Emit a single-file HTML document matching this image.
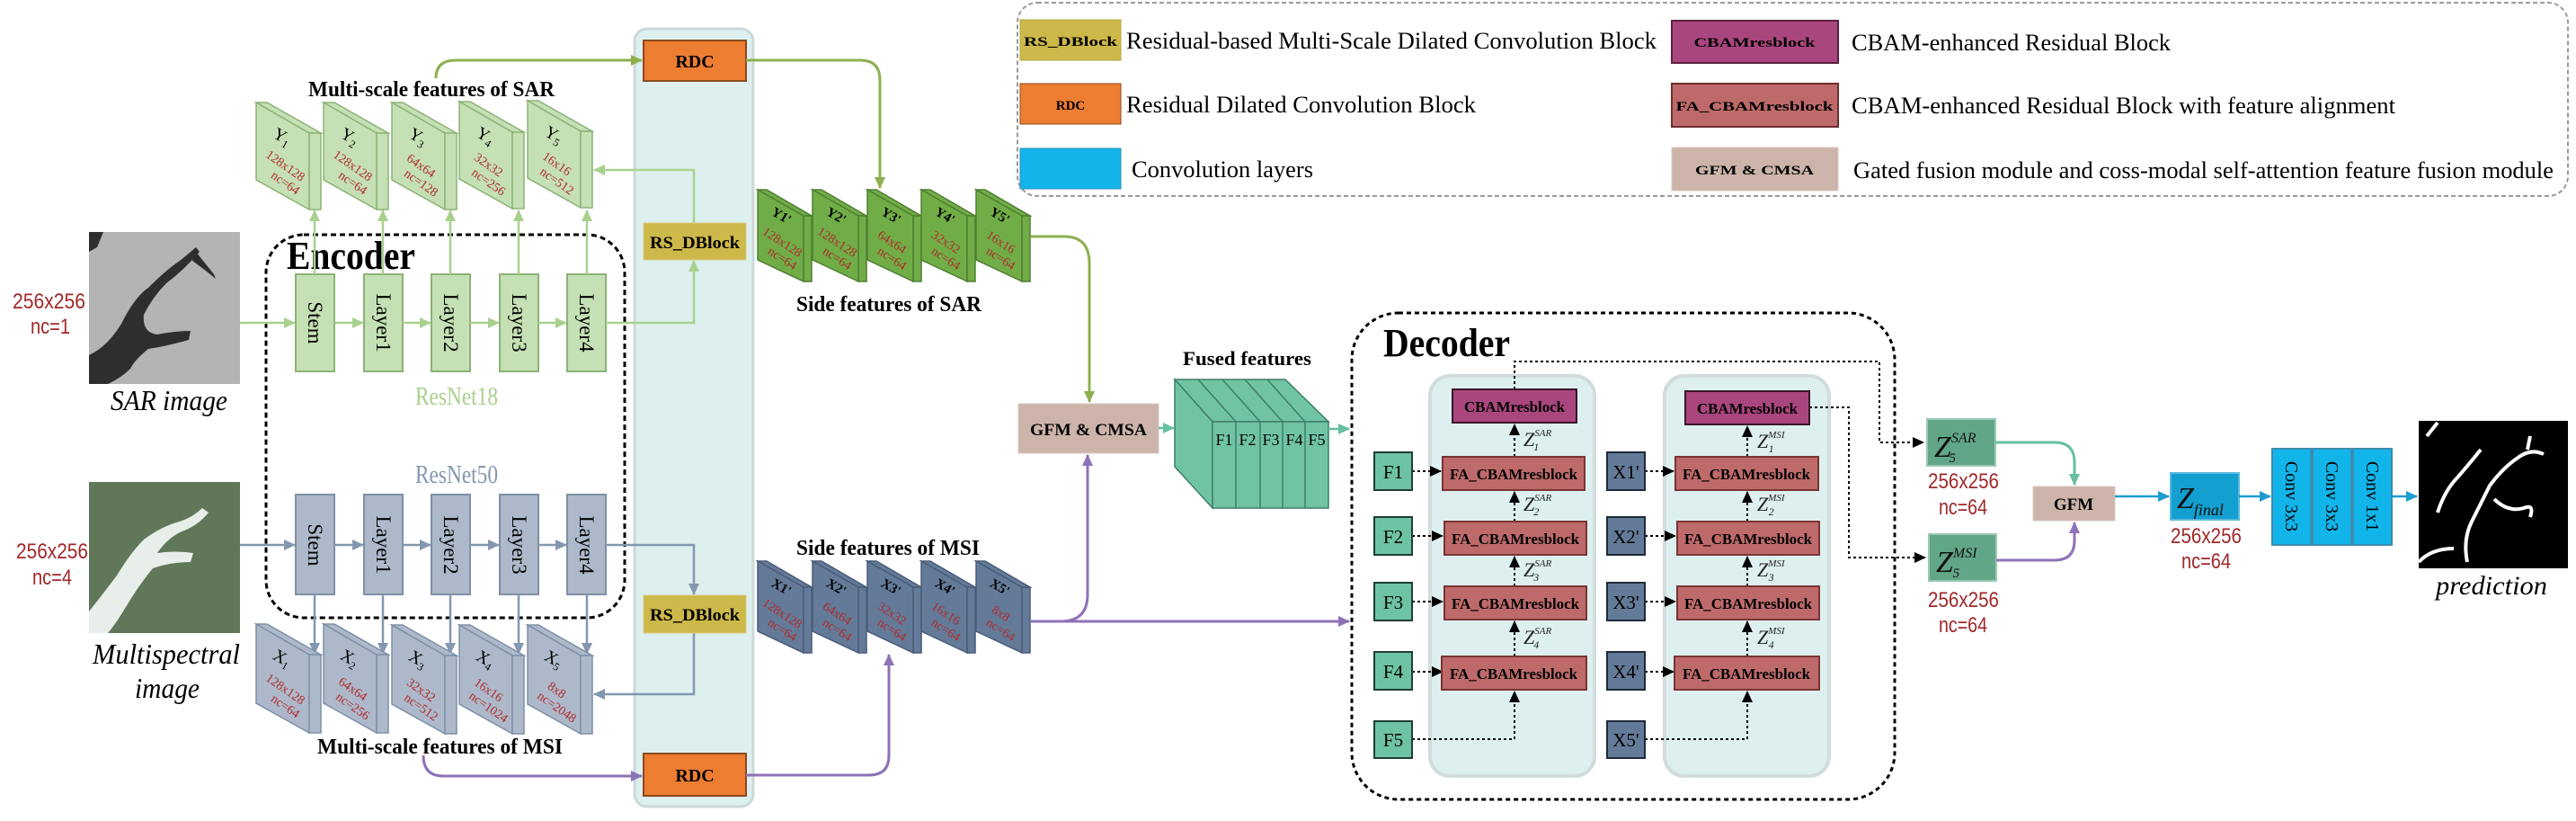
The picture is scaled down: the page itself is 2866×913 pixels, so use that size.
<!DOCTYPE html>
<html><head><meta charset="utf-8"><style>
html,body{margin:0;padding:0;background:#fff;}
svg{display:block;}
.s{font-family:"Liberation Serif",serif;}
.b{font-family:"Liberation Serif",serif;font-weight:bold;}
.r{font-family:"Liberation Sans",sans-serif;fill:#A0282A;}
.i{font-family:"Liberation Serif",serif;font-style:italic;}
.d{fill:#B22A2A;font-family:"Liberation Serif",serif;font-size:14px;}
</style></head><body>
<svg width="2866" height="913" viewBox="0 0 2866 913" xmlns="http://www.w3.org/2000/svg">
<defs>
<marker id="ag" markerWidth="14" markerHeight="14" refX="12" refY="7" orient="auto" markerUnits="userSpaceOnUse"><path d="M0,1 L13,7 L0,13z" fill="#A9D18E"/></marker>
<marker id="ab" markerWidth="14" markerHeight="14" refX="12" refY="7" orient="auto" markerUnits="userSpaceOnUse"><path d="M0,1 L13,7 L0,13z" fill="#8497B0"/></marker>
<marker id="ao" markerWidth="14" markerHeight="14" refX="12" refY="7" orient="auto" markerUnits="userSpaceOnUse"><path d="M0,1 L13,7 L0,13z" fill="#8DB04F"/></marker>
<marker id="ap" markerWidth="14" markerHeight="14" refX="12" refY="7" orient="auto" markerUnits="userSpaceOnUse"><path d="M0,1 L13,7 L0,13z" fill="#8E72B8"/></marker>
<marker id="at" markerWidth="14" markerHeight="14" refX="12" refY="7" orient="auto" markerUnits="userSpaceOnUse"><path d="M0,1 L13,7 L0,13z" fill="#66BFA0"/></marker>
<marker id="ak" markerWidth="14" markerHeight="14" refX="12" refY="7" orient="auto" markerUnits="userSpaceOnUse"><path d="M0,1 L13,7 L0,13z" fill="#000"/></marker>
<marker id="ac" markerWidth="14" markerHeight="14" refX="12" refY="7" orient="auto" markerUnits="userSpaceOnUse"><path d="M0,1 L13,7 L0,13z" fill="#1E9BD0"/></marker>
</defs>

<!-- Legend -->
<rect x="1132" y="3" width="1725" height="215" rx="22" fill="none" stroke="#9A9A9A" stroke-width="2" stroke-dasharray="5,3"/>
<rect x="1135" y="22" width="112" height="45" fill="#CDB84A" stroke="#B5A440"/>
<text class="b" x="1191" y="51" font-size="15" text-anchor="middle" textLength="104" lengthAdjust="spacingAndGlyphs">RS_DBlock</text>
<text class="s" x="1253" y="54" font-size="26" textLength="590" lengthAdjust="spacingAndGlyphs">Residual-based Multi-Scale Dilated Convolution Block</text>
<rect x="1135" y="93" width="112" height="45" fill="#ED7D31" stroke="#8B4A1E"/>
<text class="b" x="1191" y="122" font-size="15" text-anchor="middle">RDC</text>
<text class="s" x="1253" y="125" font-size="26" textLength="389" lengthAdjust="spacingAndGlyphs">Residual Dilated Convolution Block</text>
<rect x="1135" y="165" width="112" height="45" fill="#12B5EA" stroke="#2E8FB5"/>
<text class="s" x="1259" y="197" font-size="26" textLength="202" lengthAdjust="spacingAndGlyphs">Convolution layers</text>
<rect x="1860" y="23" width="185" height="47" fill="#A9467E" stroke="#5E2040" stroke-width="2"/>
<text class="b" x="1952" y="52" font-size="15" text-anchor="middle" textLength="135" lengthAdjust="spacingAndGlyphs">CBAMresblock</text>
<text class="s" x="2060" y="56" font-size="26" textLength="355" lengthAdjust="spacingAndGlyphs">CBAM-enhanced Residual Block</text>
<rect x="1860" y="93" width="185" height="48" fill="#BE6A6A" stroke="#6E2E2E" stroke-width="2"/>
<text class="b" x="1952" y="123" font-size="15" text-anchor="middle" textLength="175" lengthAdjust="spacingAndGlyphs">FA_CBAMresblock</text>
<text class="s" x="2060" y="126" font-size="26" textLength="605" lengthAdjust="spacingAndGlyphs">CBAM-enhanced Residual Block with feature alignment</text>
<rect x="1860" y="164" width="185" height="48" fill="#CDB4AA" stroke="#D8C8C0"/>
<text class="b" x="1952" y="194" font-size="15" text-anchor="middle" textLength="132" lengthAdjust="spacingAndGlyphs">GFM &amp; CMSA</text>
<text class="s" x="2062" y="198" font-size="26" textLength="779" lengthAdjust="spacingAndGlyphs">Gated fusion module and coss-modal self-attention feature fusion module</text>

<!-- Cyan column -->
<rect x="706" y="32" width="132" height="865" rx="14" fill="#DDF0EF" stroke="#CCD9D9" stroke-width="3"/>

<!-- Images -->
<rect x="99" y="258" width="168" height="169" fill="#B4B4B4"/>
<path d="M99,258 L115,258 L108,275 L99,280Z M99,395 Q120,385 135,360 Q150,330 165,320 Q185,300 200,290 Q210,282 218,275 L222,280 Q205,300 185,315 Q170,330 160,350 Q158,370 175,372 Q195,368 212,368 L210,378 Q185,385 165,388 Q150,400 145,410 Q135,420 120,427 L99,427Z M218,280 Q230,295 238,305 L240,310 Q228,300 214,290Z" fill="#2E2E2E"/>
<rect x="99" y="536" width="168" height="168" fill="#60775A"/>
<path d="M99,704 L99,680 Q115,660 130,640 Q145,615 160,600 Q180,585 200,580 Q215,575 225,565 L232,570 Q220,585 200,592 Q185,600 175,615 Q195,612 215,615 L212,625 Q190,625 170,632 Q155,650 140,675 Q128,695 120,704Z" fill="#E8EEEA"/>

<text class="r" x="14" y="343" font-size="24" textLength="81" lengthAdjust="spacingAndGlyphs">256x256</text>
<text class="r" x="34" y="371" font-size="24" textLength="44" lengthAdjust="spacingAndGlyphs">nc=1</text>
<text class="r" x="18" y="621" font-size="24" textLength="80" lengthAdjust="spacingAndGlyphs">256x256</text>
<text class="r" x="36" y="650" font-size="24" textLength="44" lengthAdjust="spacingAndGlyphs">nc=4</text>
<text class="i" x="123" y="456" font-size="32" textLength="130" lengthAdjust="spacingAndGlyphs">SAR image</text>
<text class="i" x="103" y="738" font-size="32" textLength="164" lengthAdjust="spacingAndGlyphs">Multispectral</text>
<text class="i" x="150" y="776" font-size="32" textLength="72" lengthAdjust="spacingAndGlyphs">image</text>

<!-- Encoder box -->
<rect x="296" y="261" width="399" height="426" rx="42" fill="none" stroke="#000" stroke-width="3" stroke-dasharray="6,4"/>
<text class="b" x="319" y="299" font-size="44" textLength="143" lengthAdjust="spacingAndGlyphs">Encoder</text>
<text class="s" x="462" y="450" font-size="28" fill="#A9D18E" textLength="92" lengthAdjust="spacingAndGlyphs">ResNet18</text>
<text class="s" x="462" y="537" font-size="28" fill="#8497B0" textLength="92" lengthAdjust="spacingAndGlyphs">ResNet50</text>

<!-- SAR layers -->
<g fill="#C5E0B4" stroke="#8DB276" stroke-width="2">
<rect x="329" y="305" width="43" height="108"/><rect x="405" y="305" width="43" height="108"/><rect x="480" y="305" width="43" height="108"/><rect x="556" y="305" width="43" height="108"/><rect x="631" y="305" width="43" height="108"/>
</g>
<g fill="#ADB9CA" stroke="#7F8FA6" stroke-width="2">
<rect x="329" y="550" width="43" height="111"/><rect x="405" y="550" width="43" height="111"/><rect x="480" y="550" width="43" height="111"/><rect x="556" y="550" width="43" height="111"/><rect x="631" y="550" width="43" height="111"/>
</g>
<g class="s" font-size="23" text-anchor="middle">
<text transform="translate(343,359) rotate(90)">Stem</text>
<text transform="translate(419,359) rotate(90)">Layer1</text>
<text transform="translate(494,359) rotate(90)">Layer2</text>
<text transform="translate(570,359) rotate(90)">Layer3</text>
<text transform="translate(645,359) rotate(90)">Layer4</text>
<text transform="translate(343,606) rotate(90)">Stem</text>
<text transform="translate(419,606) rotate(90)">Layer1</text>
<text transform="translate(494,606) rotate(90)">Layer2</text>
<text transform="translate(570,606) rotate(90)">Layer3</text>
<text transform="translate(645,606) rotate(90)">Layer4</text>
</g>

<!-- SAR encoder arrows -->
<g stroke="#A9D18E" stroke-width="2.5" fill="none" marker-end="url(#ag)">
<path d="M267,359 H328"/><path d="M372,359 H404"/><path d="M448,359 H479"/><path d="M523,359 H555"/><path d="M599,359 H630"/>
<path d="M674,359 H772 V290"/>
<path d="M772,248 V189 H661"/>
<path d="M350,305 V234"/><path d="M426,305 V234"/><path d="M501,305 V234"/><path d="M577,305 V234"/><path d="M653,305 V234"/>
</g>
<g stroke="#8497B0" stroke-width="2.5" fill="none" marker-end="url(#ab)">
<path d="M267,606 H328"/><path d="M372,606 H404"/><path d="M448,606 H479"/><path d="M523,606 H555"/><path d="M599,606 H630"/>
<path d="M674,606 H772 V661"/>
<path d="M772,704 V772 H661"/>
<path d="M350,661 V727"/><path d="M426,661 V727"/><path d="M501,661 V727"/><path d="M577,661 V727"/><path d="M653,661 V727"/>
</g>

<!-- Y blocks -->
<g stroke="#8DB276" stroke-width="1.5" fill="#C5E0B4">
<g transform="translate(285,114)"><polygon points="0,0 12,0 72,34 59,34"/><polygon points="0,0 59,34 59,119 0,86"/><polygon points="59,34 72,34 72,119 59,119"/></g>
<g transform="translate(360,114)"><polygon points="0,0 12,0 72,34 59,34"/><polygon points="0,0 59,34 59,119 0,86"/><polygon points="59,34 72,34 72,119 59,119"/></g>
<g transform="translate(436,114)"><polygon points="0,0 12,0 72,34 59,34"/><polygon points="0,0 59,34 59,119 0,86"/><polygon points="59,34 72,34 72,119 59,119"/></g>
<g transform="translate(511,113)"><polygon points="0,0 12,0 72,34 59,34"/><polygon points="0,0 59,34 59,119 0,86"/><polygon points="59,34 72,34 72,119 59,119"/></g>
<g transform="translate(587,112)"><polygon points="0,0 12,0 72,34 59,34"/><polygon points="0,0 59,34 59,119 0,86"/><polygon points="59,34 72,34 72,119 59,119"/></g>
</g>
<g stroke="#7F8FA6" stroke-width="1.5" fill="#ADB9CA">
<g transform="translate(285,694)"><polygon points="0,0 12,0 72,34 59,34"/><polygon points="0,0 59,34 59,121 0,88"/><polygon points="59,34 72,34 72,121 59,121"/></g>
<g transform="translate(360,694)"><polygon points="0,0 12,0 72,34 59,34"/><polygon points="0,0 59,34 59,121 0,88"/><polygon points="59,34 72,34 72,121 59,121"/></g>
<g transform="translate(436,695)"><polygon points="0,0 12,0 72,34 59,34"/><polygon points="0,0 59,34 59,121 0,88"/><polygon points="59,34 72,34 72,121 59,121"/></g>
<g transform="translate(511,695)"><polygon points="0,0 12,0 72,34 59,34"/><polygon points="0,0 59,34 59,121 0,88"/><polygon points="59,34 72,34 72,121 59,121"/></g>
<g transform="translate(587,695)"><polygon points="0,0 12,0 72,34 59,34"/><polygon points="0,0 59,34 59,121 0,88"/><polygon points="59,34 72,34 72,121 59,121"/></g>
</g>
<g class="s" font-size="19" text-anchor="middle">
<text transform="translate(311,157) rotate(30)">Y<tspan font-size="12" dy="4">1</tspan></text>
<text transform="translate(386,157) rotate(30)">Y<tspan font-size="12" dy="4">2</tspan></text>
<text transform="translate(462,157) rotate(30)">Y<tspan font-size="12" dy="4">3</tspan></text>
<text transform="translate(537,156) rotate(30)">Y<tspan font-size="12" dy="4">4</tspan></text>
<text transform="translate(613,155) rotate(30)">Y<tspan font-size="12" dy="4">5</tspan></text>
<text transform="translate(311,737) rotate(30)">X<tspan font-size="12" dy="4">1</tspan></text>
<text transform="translate(386,737) rotate(30)">X<tspan font-size="12" dy="4">2</tspan></text>
<text transform="translate(462,738) rotate(30)">X<tspan font-size="12" dy="4">3</tspan></text>
<text transform="translate(537,738) rotate(30)">X<tspan font-size="12" dy="4">4</tspan></text>
<text transform="translate(613,738) rotate(30)">X<tspan font-size="12" dy="4">5</tspan></text>
</g>
<g class="d" text-anchor="middle">
<text transform="translate(315,188) rotate(35)">128x128</text><text transform="translate(315,207) rotate(35)">nc=64</text>
<text transform="translate(390,188) rotate(35)">128x128</text><text transform="translate(390,207) rotate(35)">nc=64</text>
<text transform="translate(466,188) rotate(35)">64x64</text><text transform="translate(466,207) rotate(35)">nc=128</text>
<text transform="translate(541,187) rotate(35)">32x32</text><text transform="translate(541,206) rotate(35)">nc=256</text>
<text transform="translate(617,186) rotate(35)">16x16</text><text transform="translate(617,205) rotate(35)">nc=512</text>
<text transform="translate(315,770) rotate(35)">128x128</text><text transform="translate(315,789) rotate(35)">nc=64</text>
<text transform="translate(390,770) rotate(35)">64x64</text><text transform="translate(390,789) rotate(35)">nc=256</text>
<text transform="translate(466,771) rotate(35)">32x32</text><text transform="translate(466,790) rotate(35)">nc=512</text>
<text transform="translate(541,771) rotate(35)">16x16</text><text transform="translate(541,790) rotate(35)">nc=1024</text>
<text transform="translate(617,771) rotate(35)">8x8</text><text transform="translate(617,790) rotate(35)">nc=2048</text>
</g>
<text class="b" x="343" y="107" font-size="24" textLength="274" lengthAdjust="spacingAndGlyphs">Multi-scale features of SAR</text>
<text class="b" x="353" y="838" font-size="24" textLength="273" lengthAdjust="spacingAndGlyphs">Multi-scale features of MSI</text>

<!-- RDC / RS_DBlock -->
<rect x="716" y="45" width="114" height="45" fill="#ED7D31" stroke="#8B4A1E" stroke-width="2"/>
<text class="b" x="773" y="75" font-size="20" text-anchor="middle">RDC</text>
<rect x="716" y="248" width="114" height="41" fill="#CDB84A" stroke="#D9CC80"/>
<text class="b" x="773" y="276" font-size="19" text-anchor="middle" textLength="100" lengthAdjust="spacingAndGlyphs">RS_DBlock</text>
<rect x="716" y="662" width="114" height="42" fill="#CDB84A" stroke="#D9CC80"/>
<text class="b" x="773" y="690" font-size="19" text-anchor="middle" textLength="100" lengthAdjust="spacingAndGlyphs">RS_DBlock</text>
<rect x="716" y="838" width="114" height="47" fill="#ED7D31" stroke="#8B4A1E" stroke-width="2"/>
<text class="b" x="773" y="869" font-size="20" text-anchor="middle">RDC</text>

<!-- curves to/from RDC -->
<g stroke="#8DB04F" stroke-width="3" fill="none" marker-end="url(#ao)">
<path d="M485,87 Q485,67 507,67 H714"/>
<path d="M830,67 H957 Q979,67 979,89 V209"/>
<path d="M1147,263 H1184 Q1212,263 1212,293 V447"/>
</g>
<g stroke="#8E72B8" stroke-width="3" fill="none" marker-end="url(#ap)">
<path d="M471,840 Q471,863 493,863 H714"/>
<path d="M830,862 H967 Q989,862 989,840 V728"/>
<path d="M1147,691 H1180 Q1210,691 1210,661 V506"/>
<path d="M1147,691 H1501"/>
</g>

<!-- Y' blocks -->
<g stroke="#507E32" stroke-width="1.5" fill="#70AD47">
<g transform="translate(843,211)"><polygon points="0,0 10,0 60,29 51,29"/><polygon points="0,0 51,29 51,102 0,78"/><polygon points="51,29 60,29 60,102 51,102"/></g>
<g transform="translate(904,211)"><polygon points="0,0 10,0 60,29 51,29"/><polygon points="0,0 51,29 51,102 0,78"/><polygon points="51,29 60,29 60,102 51,102"/></g>
<g transform="translate(965,211)"><polygon points="0,0 10,0 60,29 51,29"/><polygon points="0,0 51,29 51,102 0,78"/><polygon points="51,29 60,29 60,102 51,102"/></g>
<g transform="translate(1025,211)"><polygon points="0,0 10,0 60,29 51,29"/><polygon points="0,0 51,29 51,102 0,78"/><polygon points="51,29 60,29 60,102 51,102"/></g>
<g transform="translate(1086,211)"><polygon points="0,0 10,0 60,29 51,29"/><polygon points="0,0 51,29 51,102 0,78"/><polygon points="51,29 60,29 60,102 51,102"/></g>
</g>
<g stroke="#4A5C78" stroke-width="1.5" fill="#647A99">
<g transform="translate(843,624)"><polygon points="0,0 10,0 60,29 51,29"/><polygon points="0,0 51,29 51,102 0,78"/><polygon points="51,29 60,29 60,102 51,102"/></g>
<g transform="translate(904,624)"><polygon points="0,0 10,0 60,29 51,29"/><polygon points="0,0 51,29 51,102 0,78"/><polygon points="51,29 60,29 60,102 51,102"/></g>
<g transform="translate(965,624)"><polygon points="0,0 10,0 60,29 51,29"/><polygon points="0,0 51,29 51,102 0,78"/><polygon points="51,29 60,29 60,102 51,102"/></g>
<g transform="translate(1025,624)"><polygon points="0,0 10,0 60,29 51,29"/><polygon points="0,0 51,29 51,102 0,78"/><polygon points="51,29 60,29 60,102 51,102"/></g>
<g transform="translate(1086,624)"><polygon points="0,0 10,0 60,29 51,29"/><polygon points="0,0 51,29 51,102 0,78"/><polygon points="51,29 60,29 60,102 51,102"/></g>
</g>
<g class="b" font-size="15" text-anchor="middle">
<text transform="translate(867,244) rotate(30)">Y1'</text>
<text transform="translate(928,244) rotate(30)">Y2'</text>
<text transform="translate(989,244) rotate(30)">Y3'</text>
<text transform="translate(1049,244) rotate(30)">Y4'</text>
<text transform="translate(1110,244) rotate(30)">Y5'</text>
<text transform="translate(867,657) rotate(30)">X1'</text>
<text transform="translate(928,657) rotate(30)">X2'</text>
<text transform="translate(989,657) rotate(30)">X3'</text>
<text transform="translate(1049,657) rotate(30)">X4'</text>
<text transform="translate(1110,657) rotate(30)">X5'</text>
</g>
<g class="d" text-anchor="middle" font-size="14">
<text transform="translate(868,273) rotate(33)">128x128</text><text transform="translate(868,291) rotate(33)">nc=64</text>
<text transform="translate(929,273) rotate(33)">128x128</text><text transform="translate(929,291) rotate(33)">nc=64</text>
<text transform="translate(990,273) rotate(33)">64x64</text><text transform="translate(990,291) rotate(33)">nc=64</text>
<text transform="translate(1050,273) rotate(33)">32x32</text><text transform="translate(1050,291) rotate(33)">nc=64</text>
<text transform="translate(1111,273) rotate(33)">16x16</text><text transform="translate(1111,291) rotate(33)">nc=64</text>
<text transform="translate(868,686) rotate(33)">128x128</text><text transform="translate(868,704) rotate(33)">nc=64</text>
<text transform="translate(929,686) rotate(33)">64x64</text><text transform="translate(929,704) rotate(33)">nc=64</text>
<text transform="translate(990,686) rotate(33)">32x32</text><text transform="translate(990,704) rotate(33)">nc=64</text>
<text transform="translate(1050,686) rotate(33)">16x16</text><text transform="translate(1050,704) rotate(33)">nc=64</text>
<text transform="translate(1111,686) rotate(33)">8x8</text><text transform="translate(1111,704) rotate(33)">nc=64</text>
</g>
<text class="b" x="886" y="346" font-size="24" textLength="206" lengthAdjust="spacingAndGlyphs">Side features of SAR</text>
<text class="b" x="886" y="617" font-size="24" textLength="204" lengthAdjust="spacingAndGlyphs">Side features of MSI</text>

<!-- GFM & CMSA -->
<rect x="1133" y="449" width="156" height="55" fill="#CDB4AA" stroke="#D8C8C0"/>
<text class="b" x="1211" y="484" font-size="19" text-anchor="middle" textLength="130" lengthAdjust="spacingAndGlyphs">GFM &amp; CMSA</text>
<path d="M1289,476 H1306" stroke="#66BFA0" stroke-width="2.5" marker-end="url(#at)"/>

<!-- Fused features -->
<text class="b" x="1316" y="406" font-size="22" textLength="143" lengthAdjust="spacingAndGlyphs">Fused features</text>
<g fill="#70C4A4" stroke="#3E7E66" stroke-width="1.5">
<polygon points="1307,422 1430,422 1478,469 1349,469"/>
<polygon points="1307,422 1349,469 1349,565 1307,519"/>
<rect x="1349" y="469" width="129" height="96"/>
</g>
<g stroke="#3E7E66" stroke-width="1.5">
<line x1="1375" y1="469" x2="1375" y2="565"/><line x1="1402" y1="469" x2="1402" y2="565"/><line x1="1427" y1="469" x2="1427" y2="565"/><line x1="1452" y1="469" x2="1452" y2="565"/>
<line x1="1375" y1="469" x2="1333" y2="422"/><line x1="1402" y1="469" x2="1360" y2="422"/><line x1="1427" y1="469" x2="1385" y2="422"/><line x1="1452" y1="469" x2="1410" y2="422"/>
</g>
<g class="s" font-size="18" text-anchor="middle">
<text x="1362" y="495">F1</text><text x="1388" y="495">F2</text><text x="1414" y="495">F3</text><text x="1440" y="495">F4</text><text x="1465" y="495">F5</text>
</g>
<path d="M1478,477 H1501" stroke="#66BFA0" stroke-width="2.5" marker-end="url(#at)"/>

<!-- Decoder -->
<rect x="1504" y="348" width="604" height="541" rx="52" fill="none" stroke="#000" stroke-width="3" stroke-dasharray="5,4"/>
<text class="b" x="1539" y="396" font-size="44" textLength="141" lengthAdjust="spacingAndGlyphs">Decoder</text>
<rect x="1591" y="418" width="183" height="445" rx="22" fill="#DDF0EF" stroke="#D2DCDC" stroke-width="4"/>
<rect x="1852" y="418" width="183" height="445" rx="22" fill="#DDF0EF" stroke="#D2DCDC" stroke-width="4"/>

<g stroke="#000" stroke-width="2" fill="none" stroke-dasharray="3,3">
<path d="M1685,433 V402 H2091 V492 H2140" marker-end="url(#ak)"/>
<path d="M2013,453 H2057 V620 H2142" marker-end="url(#ak)"/>
<path d="M1571,524 H1603" marker-end="url(#ak)"/>
<path d="M1571,596 H1605" marker-end="url(#ak)"/>
<path d="M1571,669 H1605" marker-end="url(#ak)"/>
<path d="M1571,747 H1605" marker-end="url(#ak)"/>
<path d="M1571,822 H1685 V769" marker-end="url(#ak)"/>
<path d="M1685,730 V691" marker-end="url(#ak)"/>
<path d="M1685,652 V619" marker-end="url(#ak)"/>
<path d="M1685,580 V547" marker-end="url(#ak)"/>
<path d="M1685,508 V472" marker-end="url(#ak)"/>
<path d="M1830,524 H1862" marker-end="url(#ak)"/>
<path d="M1830,596 H1864" marker-end="url(#ak)"/>
<path d="M1830,669 H1864" marker-end="url(#ak)"/>
<path d="M1830,747 H1862" marker-end="url(#ak)"/>
<path d="M1830,822 H1944 V769" marker-end="url(#ak)"/>
<path d="M1944,730 V691" marker-end="url(#ak)"/>
<path d="M1944,652 V619" marker-end="url(#ak)"/>
<path d="M1944,580 V547" marker-end="url(#ak)"/>
<path d="M1944,508 V474" marker-end="url(#ak)"/>
</g>

<rect x="1616" y="433" width="138" height="37" fill="#A9467E" stroke="#3A1428" stroke-width="2"/>
<text class="b" x="1685" y="458" font-size="17" text-anchor="middle" textLength="112" lengthAdjust="spacingAndGlyphs">CBAMresblock</text>
<rect x="1875" y="435" width="138" height="37" fill="#A9467E" stroke="#3A1428" stroke-width="2"/>
<text class="b" x="1944" y="460" font-size="17" text-anchor="middle" textLength="112" lengthAdjust="spacingAndGlyphs">CBAMresblock</text>
<g fill="#BE6A6A" stroke="#7A3434" stroke-width="2">
<rect x="1605" y="508" width="158" height="37"/><rect x="1607" y="580" width="158" height="37"/><rect x="1607" y="652" width="158" height="37"/><rect x="1604" y="730" width="161" height="37"/>
<rect x="1864" y="508" width="159" height="37"/><rect x="1866" y="580" width="158" height="37"/><rect x="1866" y="652" width="158" height="37"/><rect x="1863" y="730" width="161" height="37"/>
</g>
<g class="b" font-size="17" text-anchor="middle">
<text x="1684" y="533" textLength="142" lengthAdjust="spacingAndGlyphs">FA_CBAMresblock</text>
<text x="1686" y="605" textLength="142" lengthAdjust="spacingAndGlyphs">FA_CBAMresblock</text>
<text x="1686" y="677" textLength="142" lengthAdjust="spacingAndGlyphs">FA_CBAMresblock</text>
<text x="1684" y="755" textLength="142" lengthAdjust="spacingAndGlyphs">FA_CBAMresblock</text>
<text x="1943" y="533" textLength="142" lengthAdjust="spacingAndGlyphs">FA_CBAMresblock</text>
<text x="1945" y="605" textLength="142" lengthAdjust="spacingAndGlyphs">FA_CBAMresblock</text>
<text x="1945" y="677" textLength="142" lengthAdjust="spacingAndGlyphs">FA_CBAMresblock</text>
<text x="1943" y="755" textLength="142" lengthAdjust="spacingAndGlyphs">FA_CBAMresblock</text>
</g>
<g fill="#6DC3A3" stroke="#1E3E32" stroke-width="2">
<rect x="1529" y="503" width="42" height="42"/><rect x="1529" y="575" width="42" height="42"/><rect x="1529" y="648" width="42" height="42"/><rect x="1529" y="725" width="42" height="42"/><rect x="1529" y="802" width="42" height="41"/>
</g>
<g fill="#647A99" stroke="#1E2A3A" stroke-width="2">
<rect x="1788" y="503" width="42" height="42"/><rect x="1788" y="575" width="42" height="42"/><rect x="1788" y="648" width="42" height="42"/><rect x="1788" y="725" width="42" height="42"/><rect x="1788" y="802" width="42" height="41"/>
</g>
<g class="s" font-size="21" text-anchor="middle">
<text x="1550" y="532">F1</text><text x="1550" y="604">F2</text><text x="1550" y="677">F3</text><text x="1550" y="754">F4</text><text x="1550" y="830">F5</text>
<text x="1809" y="532">X1'</text><text x="1809" y="604">X2'</text><text x="1809" y="677">X3'</text><text x="1809" y="754">X4'</text><text x="1809" y="830">X5'</text>
</g>
<g class="i" font-size="22" fill="#222">
<text x="1695" y="496">Z<tspan font-size="11" dy="-11">SAR</tspan><tspan font-size="12" dx="-20" dy="16">1</tspan></text>
<text x="1695" y="568">Z<tspan font-size="11" dy="-11">SAR</tspan><tspan font-size="12" dx="-20" dy="16">2</tspan></text>
<text x="1695" y="641">Z<tspan font-size="11" dy="-11">SAR</tspan><tspan font-size="12" dx="-20" dy="16">3</tspan></text>
<text x="1695" y="716">Z<tspan font-size="11" dy="-11">SAR</tspan><tspan font-size="12" dx="-20" dy="16">4</tspan></text>
<text x="1955" y="498">Z<tspan font-size="11" dy="-11">MSI</tspan><tspan font-size="12" dx="-18" dy="16">1</tspan></text>
<text x="1955" y="568">Z<tspan font-size="11" dy="-11">MSI</tspan><tspan font-size="12" dx="-18" dy="16">2</tspan></text>
<text x="1955" y="641">Z<tspan font-size="11" dy="-11">MSI</tspan><tspan font-size="12" dx="-18" dy="16">3</tspan></text>
<text x="1955" y="716">Z<tspan font-size="11" dy="-11">MSI</tspan><tspan font-size="12" dx="-18" dy="16">4</tspan></text>
</g>

<!-- Right side -->
<rect x="2144" y="466" width="76" height="52" fill="#62A688" stroke="#9CC8B2" stroke-width="2"/>
<rect x="2146" y="594" width="75" height="52" fill="#62A688" stroke="#9CC8B2" stroke-width="2"/>
<text class="i" x="2152" y="508" font-size="34" fill="#111">Z<tspan font-size="16" dy="-16">SAR</tspan><tspan font-size="15" dx="-30" dy="22">5</tspan></text>
<text class="i" x="2154" y="636" font-size="34" fill="#111">Z<tspan font-size="16" dy="-16">MSI</tspan><tspan font-size="15" dx="-27" dy="22">5</tspan></text>
<text class="r" x="2145" y="543" font-size="24" textLength="79" lengthAdjust="spacingAndGlyphs">256x256</text>
<text class="r" x="2157" y="572" font-size="24" textLength="54" lengthAdjust="spacingAndGlyphs">nc=64</text>
<text class="r" x="2145" y="675" font-size="24" textLength="79" lengthAdjust="spacingAndGlyphs">256x256</text>
<text class="r" x="2157" y="703" font-size="24" textLength="54" lengthAdjust="spacingAndGlyphs">nc=64</text>
<path d="M2220,492 H2286 Q2308,492 2308,514 V539" stroke="#66BFA0" stroke-width="3" fill="none" marker-end="url(#at)"/>
<path d="M2221,623 H2286 Q2308,623 2308,601 V581" stroke="#8E72B8" stroke-width="3" fill="none" marker-end="url(#ap)"/>
<rect x="2262" y="541" width="91" height="38" fill="#CDB4AA" stroke="#D8C8C0"/>
<text class="b" x="2307" y="567" font-size="19" text-anchor="middle">GFM</text>
<path d="M2353,552 H2413" stroke="#1E9BD0" stroke-width="2.5" marker-end="url(#ac)"/>
<rect x="2415" y="526" width="76" height="52" fill="#139FD0" stroke="#5CB8DE" stroke-width="2"/>
<text class="i" x="2422" y="565" font-size="34" fill="#111">Z<tspan font-size="18" dy="8">final</tspan></text>
<text class="r" x="2415" y="604" font-size="24" textLength="79" lengthAdjust="spacingAndGlyphs">256x256</text>
<text class="r" x="2427" y="632" font-size="24" textLength="55" lengthAdjust="spacingAndGlyphs">nc=64</text>
<path d="M2491,552 H2526" stroke="#1E9BD0" stroke-width="2.5" marker-end="url(#ac)"/>
<g fill="#12B5EA" stroke="#3A8DB0" stroke-width="2">
<rect x="2528" y="499" width="43" height="107"/><rect x="2573" y="499" width="43" height="107"/><rect x="2618" y="499" width="43" height="107"/>
</g>
<g class="s" font-size="20" text-anchor="middle">
<text transform="translate(2543,552) rotate(90)">Conv 3x3</text>
<text transform="translate(2588,552) rotate(90)">Conv 3x3</text>
<text transform="translate(2633,552) rotate(90)">Conv 1x1</text>
</g>
<path d="M2661,552 H2689" stroke="#1E9BD0" stroke-width="2.5" marker-end="url(#ac)"/>
<rect x="2691" y="468" width="166" height="164" fill="#000"/>
<g stroke="#fff" stroke-width="4" fill="none">
<path d="M2700,485 L2712,470"/>
<path d="M2745,625 Q2740,600 2750,580 Q2760,560 2770,540 Q2785,520 2800,510 Q2815,498 2830,505"/>
<path d="M2712,570 Q2720,545 2735,530 Q2748,515 2760,500"/>
<path d="M2775,555 Q2790,570 2808,565 Q2820,560 2815,575"/>
<path d="M2691,625 Q2705,610 2730,610"/>
<path d="M2812,500 L2815,485"/>
</g>
<text class="i" x="2710" y="661" font-size="30" textLength="124" lengthAdjust="spacingAndGlyphs">prediction</text>
</svg>
</body></html>
